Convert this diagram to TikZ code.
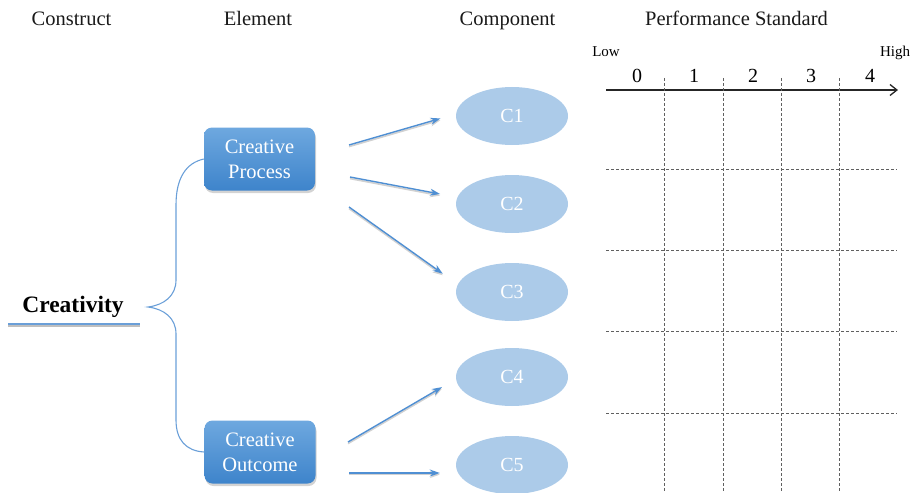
\documentclass[tikz,border=0pt]{standalone}
\usepackage{fontspec}
\setmainfont{Liberation Serif}
\usetikzlibrary{arrows.meta,shadows,calc,shapes.geometric}
\definecolor{boxtop}{HTML}{6EA8DF}
\definecolor{boxbot}{HTML}{3E84CB}
\definecolor{compfill}{HTML}{ACCBE9}
\definecolor{linkblue}{HTML}{4F8FD3}
\definecolor{bracecol}{HTML}{6A9FD8}
\definecolor{gridgray}{HTML}{606060}
\begin{document}
\begin{tikzpicture}[x=1pt,y=-1pt,
  header/.style={anchor=base, font=\fontsize{20.5}{24}\selectfont, text=black!90},
  elembox/.style={rounded corners=8pt, minimum width=111pt, minimum height=63pt,
    top color=boxtop, bottom color=boxbot, draw=none, text=white, align=center,
    font=\fontsize{20.5}{25}\selectfont,
    drop shadow={opacity=0.35, shadow xshift=1pt, shadow yshift=-2.5pt}},
  compell/.style={ellipse, minimum width=112pt, minimum height=58pt, fill=compfill,
    draw=none, text=white, font=\fontsize{20}{24}\selectfont, inner sep=0pt},
  link/.style={draw=linkblue, line width=1.4pt, shorten >=16pt,
    -{Stealth[length=10pt,width=7pt]},
    preaction={draw=black!18, line width=1.6pt, transform canvas={yshift=-1.6pt}}},
  brace/.style={draw=bracecol, line width=1.1pt},
  griddash/.style={draw=gridgray, line width=0.9pt, dash pattern=on 3pt off 2pt},
  tick/.style={anchor=base, font=\fontsize{20}{24}\selectfont},
  scalelbl/.style={anchor=base, font=\fontsize{15}{18}\selectfont}
]
\useasboundingbox (0,0) rectangle (917,492);

% column headers
\node[header] (hcon) at (71.5,26) {Construct};
\node[header] (hele) at (258,26) {Element};
\node[header] (hcom) at (507.5,26) {Component};
\node[header] (hper) at (736.5,26) {Performance Standard};

% construct
\node[anchor=base, font=\bfseries\fontsize{23.5}{28}\selectfont] (cre) at (73,312) {Creativity};
\coordinate (ulL) at (8,324);
\coordinate (ulR) at (140,324);
\draw[draw=black!25, line width=1.6pt] ($(ulL)+(0,2.2)$) -- ($(ulR)+(0,2.2)$);
\draw[draw=bracecol, line width=1.4pt] (ulL) -- (ulR);

% elements
\node[elembox] (cp) at (259.5,159) {Creative\\Process};
\node[elembox] (co) at (260,452) {Creative\\Outcome};

% brace joining the construct to its elements
\coordinate (tip) at (148,307);
\draw[brace] (cp.west) .. controls (186,163) and (176,178) .. (176,205)
  -- (176,280) .. controls (176,296) and (164,305) .. (tip)
  .. controls (164,309) and (176,318) .. (176,334)
  -- (176,420) .. controls (176,440) and (186,451) .. (co.west);

% components
\node[compell] (c1) at (512,116) {C1};
\node[compell] (c2) at (512,204) {C2};
\node[compell] (c3) at (512,292) {C3};
\node[compell] (c4) at (512,377) {C4};
\node[compell] (c5) at (512,465) {C5};

% links from elements to components
\coordinate (s1) at (349,145);
\coordinate (s2) at (350,177);
\coordinate (s3) at (349,207);
\coordinate (s4) at (348,442);
\coordinate (s5) at (349,473);
\draw[link] (s1) -- ($(c1.west)+(0,-2)$);
\draw[link] (s2) -- ($(c2.west)+(0,-7)$);
\draw[link] (s3) -- ($(c3.west)+(0,-9)$);
\draw[link] (s4) -- ($(c4.west)+(0,2)$);
\draw[link] (s5) -- ($(c5.west)+(0,8)$);

% performance scale
\coordinate (axL) at (606,90);
\coordinate (axR) at (898,90);
\draw[line width=1.3pt, draw=black!85, -{Straight Barb[length=7pt,width=11pt]}] (axL) -- (axR);
\node[scalelbl] (low) at (606,57) {Low};
\node[scalelbl] (high) at (895,57) {High};
\node[tick] (t0) at (637,83) {0};
\node[tick] (t1) at (694,83) {1};
\node[tick] (t2) at (753,83) {2};
\node[tick] (t3) at (811,83) {3};
\node[tick] (t4) at (870,83) {4};

% dashed grid
\foreach \gx in {664,723,781,839}
  \draw[griddash] (\gx,78) -- (\gx,492);
\foreach \gy in {169,250,331,413}
  \draw[griddash] (606,\gy) -- (897,\gy);
\end{tikzpicture}
\end{document}
